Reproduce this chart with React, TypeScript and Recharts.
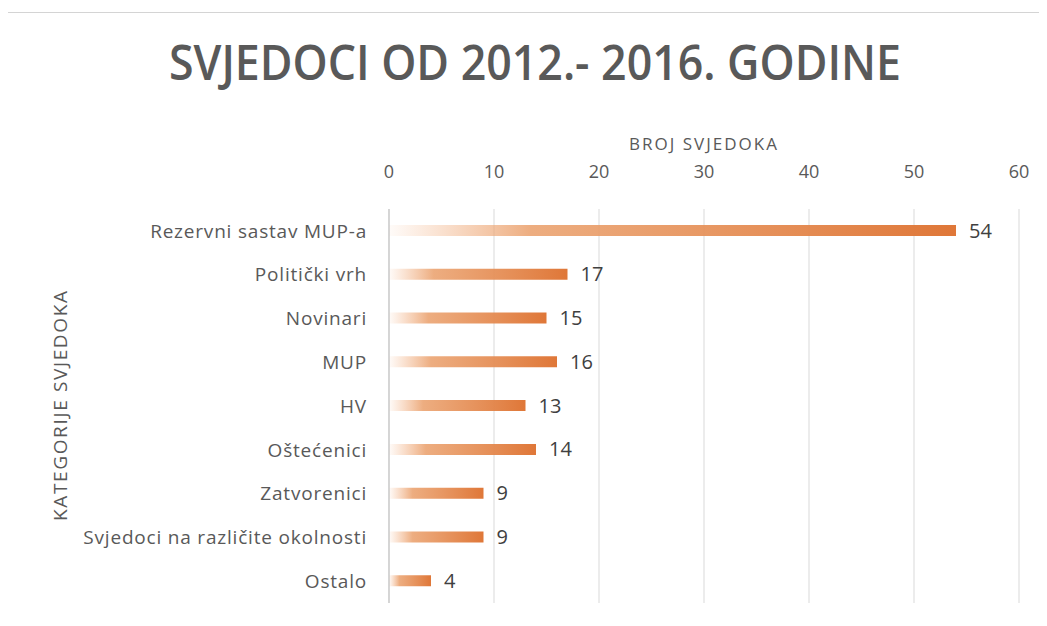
import React from 'react';
import { BarChart, Bar, XAxis, YAxis, CartesianGrid, LabelList } from 'recharts';

const categories = [
  'Rezervni sastav MUP-a',
  'Politički vrh',
  'Novinari',
  'MUP',
  'HV',
  'Oštećenici',
  'Zatvorenici',
  'Svjedoci na različite okolnosti',
  'Ostalo',
];
const witnesses = [54, 17, 15, 16, 13, 14, 9, 9, 4];
const xTicks = [0, 10, 20, 30, 40, 50, 60];

const chartTitle = 'SVJEDOCI OD 2012.- 2016. GODINE';
const xTitle = 'BROJ SVJEDOKA';
const yTitle = 'KATEGORIJE SVJEDOKA';

const data = categories.map((name, i) => ({ name, value: witnesses[i] }));

const font = '"Open Sans", "Noto Sans", sans-serif';

const App: React.FC = () => {
  return (
    <div style={{ position: 'relative', width: 1047, height: 626, margin: -8, overflow: 'hidden', background: '#fff' }}>
      <svg width={1047} height={120} style={{ position: 'absolute', left: 0, top: 0 }}>
        <text
          x={535}
          y={80}
          textAnchor="middle"
          textLength={732}
          lengthAdjust="spacingAndGlyphs"
          fontFamily={font}
          fontWeight={600}
          fontSize={49}
          fill="#595959"
        >
          {chartTitle}
        </text>
      </svg>
      <div style={{ position: 'absolute', left: 0, top: 0 }}>
        <BarChart
          width={1047}
          height={626}
          data={data}
          layout="vertical"
          margin={{ top: 159, right: 28, bottom: 23, left: 0 }}
          barSize={11}
        >
          <defs>
            <linearGradient id="barFade" x1="0" y1="0" x2="1" y2="0">
              <stop offset="0%" stopColor="#F4B183" stopOpacity={0.05} />
              <stop offset="25%" stopColor="#EBA472" stopOpacity={0.9} />
              <stop offset="100%" stopColor="#DF7738" stopOpacity={1} />
            </linearGradient>
          </defs>
          <CartesianGrid horizontal={false} stroke="#d9d9d9" />
          <XAxis
            type="number"
            orientation="top"
            domain={[0, 60]}
            ticks={xTicks}
            height={50}
            axisLine={false}
            tickLine={false}
            tickSize={0}
            tickMargin={31}
            tick={{ fill: '#595959', fontSize: 18, fontFamily: font }}
            label={{
              value: xTitle,
              position: 'insideTop',
              offset: -21,
              fill: '#595959',
              fontSize: 17,
              letterSpacing: 2,
              fontFamily: font,
            }}
          />
          <YAxis
            type="category"
            dataKey="name"
            width={389}
            axisLine={{ stroke: '#bfbfbf' }}
            tickLine={false}
            tickSize={0}
            tickMargin={22}
            interval={0}
            tick={{ fill: '#595959', fontSize: 19, letterSpacing: 0.8, fontFamily: font }}
            label={{
              content: (props: any) => {
                const vb = props.viewBox;
                const cx = vb.x + 60;
                const cy = vb.y + vb.height / 2;
                return (
                  <text
                    x={cx}
                    y={cy}
                    transform={`rotate(-90, ${cx}, ${cy})`}
                    textAnchor="middle"
                    dominantBaseline="central"
                    textLength={230}
                    fill="#595959"
                    fontSize={19}
                    fontFamily={font}
                  >
                    {yTitle}
                  </text>
                );
              },
            }}
          />
          <Bar dataKey="value" fill="url(#barFade)" isAnimationActive={false}>
            <LabelList
              dataKey="value"
              position="right"
              offset={13}
              fill="#404040"
              fontSize={20}
              fontFamily={font}
            />
          </Bar>
        </BarChart>
      </div>
      {/* chart frame, drawn on top */}
      <div
        style={{
          position: 'absolute',
          left: 4,
          top: 12,
          width: 1100,
          height: 700,
          borderTop: '1px solid #d4d4d4',
          borderLeft: '2px solid #d4d4d4',
          zIndex: 5,
          pointerEvents: 'none',
        }}
      />
    </div>
  );
};

export default App;
